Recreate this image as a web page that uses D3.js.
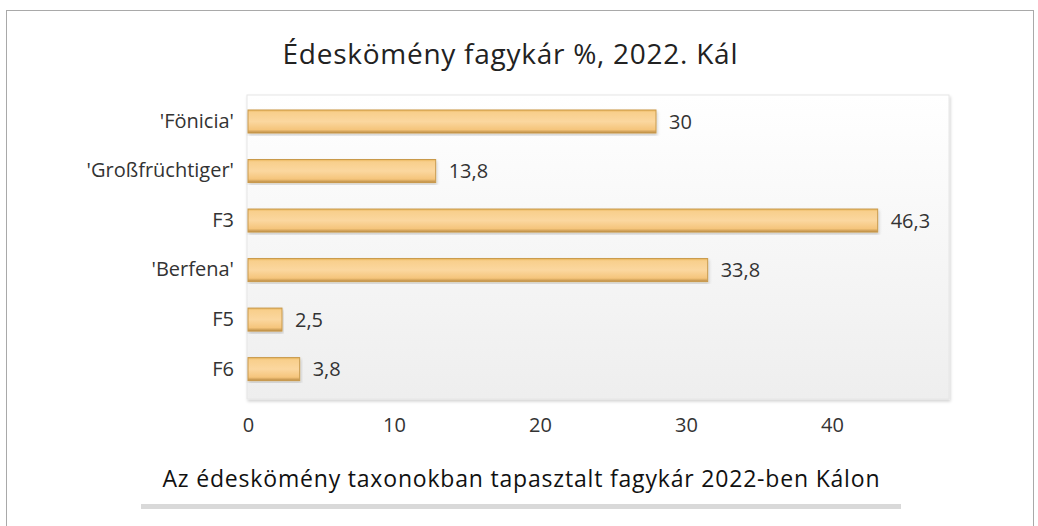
<!DOCTYPE html>
<html>
<head>
<meta charset="utf-8">
<script src="https://cdn.jsdelivr.net/npm/d3@7"></script>
<style>
  body { margin: 0; background: #fff; }
  svg { display: block; }
</style>
</head>
<body>
<script>
// data
var categories = ["'Fönicia'", "'Großfrüchtiger'", "F3", "'Berfena'", "F5", "F6"];
var values = [30, 13.8, 46.3, 33.8, 2.5, 3.8];
var valueLabels = ["30", "13,8", "46,3", "33,8", "2,5", "3,8"];
var tickValues = [0, 10, 20, 30, 40];
var title = "Édeskömény fagykár %, 2022. Kál";
var caption = "Az édeskömény taxonokban tapasztalt fagykár 2022-ben Kálon";

var w = 1038, h = 526;

var svg = d3.select("body").append("svg")
  .attr("width", w)
  .attr("height", h);

var defs = svg.append("defs");

var bg = defs.append("linearGradient").attr("id", "panelGrad")
  .attr("x1", 0).attr("y1", 0).attr("x2", 0).attr("y2", 1);
bg.append("stop").attr("offset", "0%").attr("stop-color", "#ffffff");
bg.append("stop").attr("offset", "100%").attr("stop-color", "#eeeeee");

var barGrad = defs.append("linearGradient").attr("id", "barGrad")
  .attr("x1", 0).attr("y1", 0).attr("x2", 0).attr("y2", 1);
barGrad.append("stop").attr("offset", "0%").attr("stop-color", "#eab65a");
barGrad.append("stop").attr("offset", "10%").attr("stop-color", "#f8cf8c");
barGrad.append("stop").attr("offset", "50%").attr("stop-color", "#fbd79f");
barGrad.append("stop").attr("offset", "85%").attr("stop-color", "#f5c57c");
barGrad.append("stop").attr("offset", "100%").attr("stop-color", "#b98a42");

var shadow = defs.append("filter").attr("id", "shadow")
  .attr("x", "-5%").attr("y", "-5%").attr("width", "110%").attr("height", "115%");
shadow.append("feDropShadow")
  .attr("dx", 1).attr("dy", 2).attr("stdDeviation", 1.5)
  .attr("flood-color", "#000").attr("flood-opacity", 0.18);

// outer frame
svg.append("rect")
  .attr("x", 6.5).attr("y", 10.5)
  .attr("width", 1027).attr("height", 530)
  .attr("fill", "none")
  .attr("stroke", "#a9a9a9")
  .attr("stroke-width", 1);

// title
svg.append("text")
  .attr("x", 510).attr("y", 64)
  .attr("text-anchor", "middle")
  .attr("textLength", 455)
  .attr("lengthAdjust", "spacing")
  .style("font-family", "'Open Sans', sans-serif")
  .style("font-size", "28px")
  .style("fill", "#222")
  .text(title);

// scales
var x = d3.scaleLinear().domain([0, 50]).range([248, 928]);
var xTicks = d3.scaleLinear().domain([0, 40]).range([248, 832]);
var y = d3.scaleBand()
  .domain(categories)
  .range([97.6, 393])
  .paddingInner(0.535)
  .paddingOuter(0.25);

// plot panel
svg.append("rect")
  .attr("x", 247).attr("y", 95)
  .attr("width", 702).attr("height", 304)
  .attr("fill", "url(#panelGrad)")
  .attr("stroke", "#e6e6e6")
  .attr("filter", "url(#shadow)");

// bars
svg.append("g").selectAll("rect")
  .data(values)
  .enter()
  .append("rect")
  .attr("x", x(0))
  .attr("y", function(d, i) { return y(categories[i]); })
  .attr("width", function(d) { return x(d) - x(0); })
  .attr("height", y.bandwidth())
  .attr("fill", "url(#barGrad)")
  .attr("stroke", "#c99a4c")
  .attr("stroke-width", 1)
  .attr("filter", "url(#shadow)");

// value labels
svg.append("g").selectAll("text")
  .data(values)
  .enter()
  .append("text")
  .attr("x", function(d) { return x(d) + 13; })
  .attr("y", function(d, i) { return y(categories[i]) + y.bandwidth() / 2; })
  .attr("dy", "0.36em")
  .style("font-family", "'Open Sans', sans-serif")
  .style("font-size", "20px")
  .style("fill", "#333")
  .text(function(d, i) { return valueLabels[i]; });

// category axis
var yAxis = svg.append("g")
  .attr("transform", "translate(234,0)")
  .call(d3.axisLeft(y).tickSize(0).tickPadding(0));
yAxis.select(".domain").remove();
yAxis.selectAll("text")
  .style("font-family", "'Open Sans', sans-serif")
  .style("font-size", "20px")
  .style("fill", "#333");

// value axis (tick labels only)
var xAxis = svg.append("g")
  .attr("transform", "translate(0,418)")
  .call(d3.axisBottom(xTicks).tickValues(tickValues).tickSize(0).tickPadding(0));
xAxis.select(".domain").remove();
xAxis.selectAll("text")
  .style("font-family", "'Open Sans', sans-serif")
  .style("font-size", "20px")
  .style("fill", "#333");

// caption
svg.append("text")
  .attr("x", 521).attr("y", 487)
  .attr("text-anchor", "middle")
  .attr("textLength", 717)
  .attr("lengthAdjust", "spacing")
  .style("font-family", "'Open Sans', sans-serif")
  .style("font-size", "23px")
  .style("fill", "#111")
  .text(caption);

svg.append("rect")
  .attr("x", 141).attr("y", 504)
  .attr("width", 760).attr("height", 5)
  .attr("fill", "#d9d9d9");
</script>
</body>
</html>
